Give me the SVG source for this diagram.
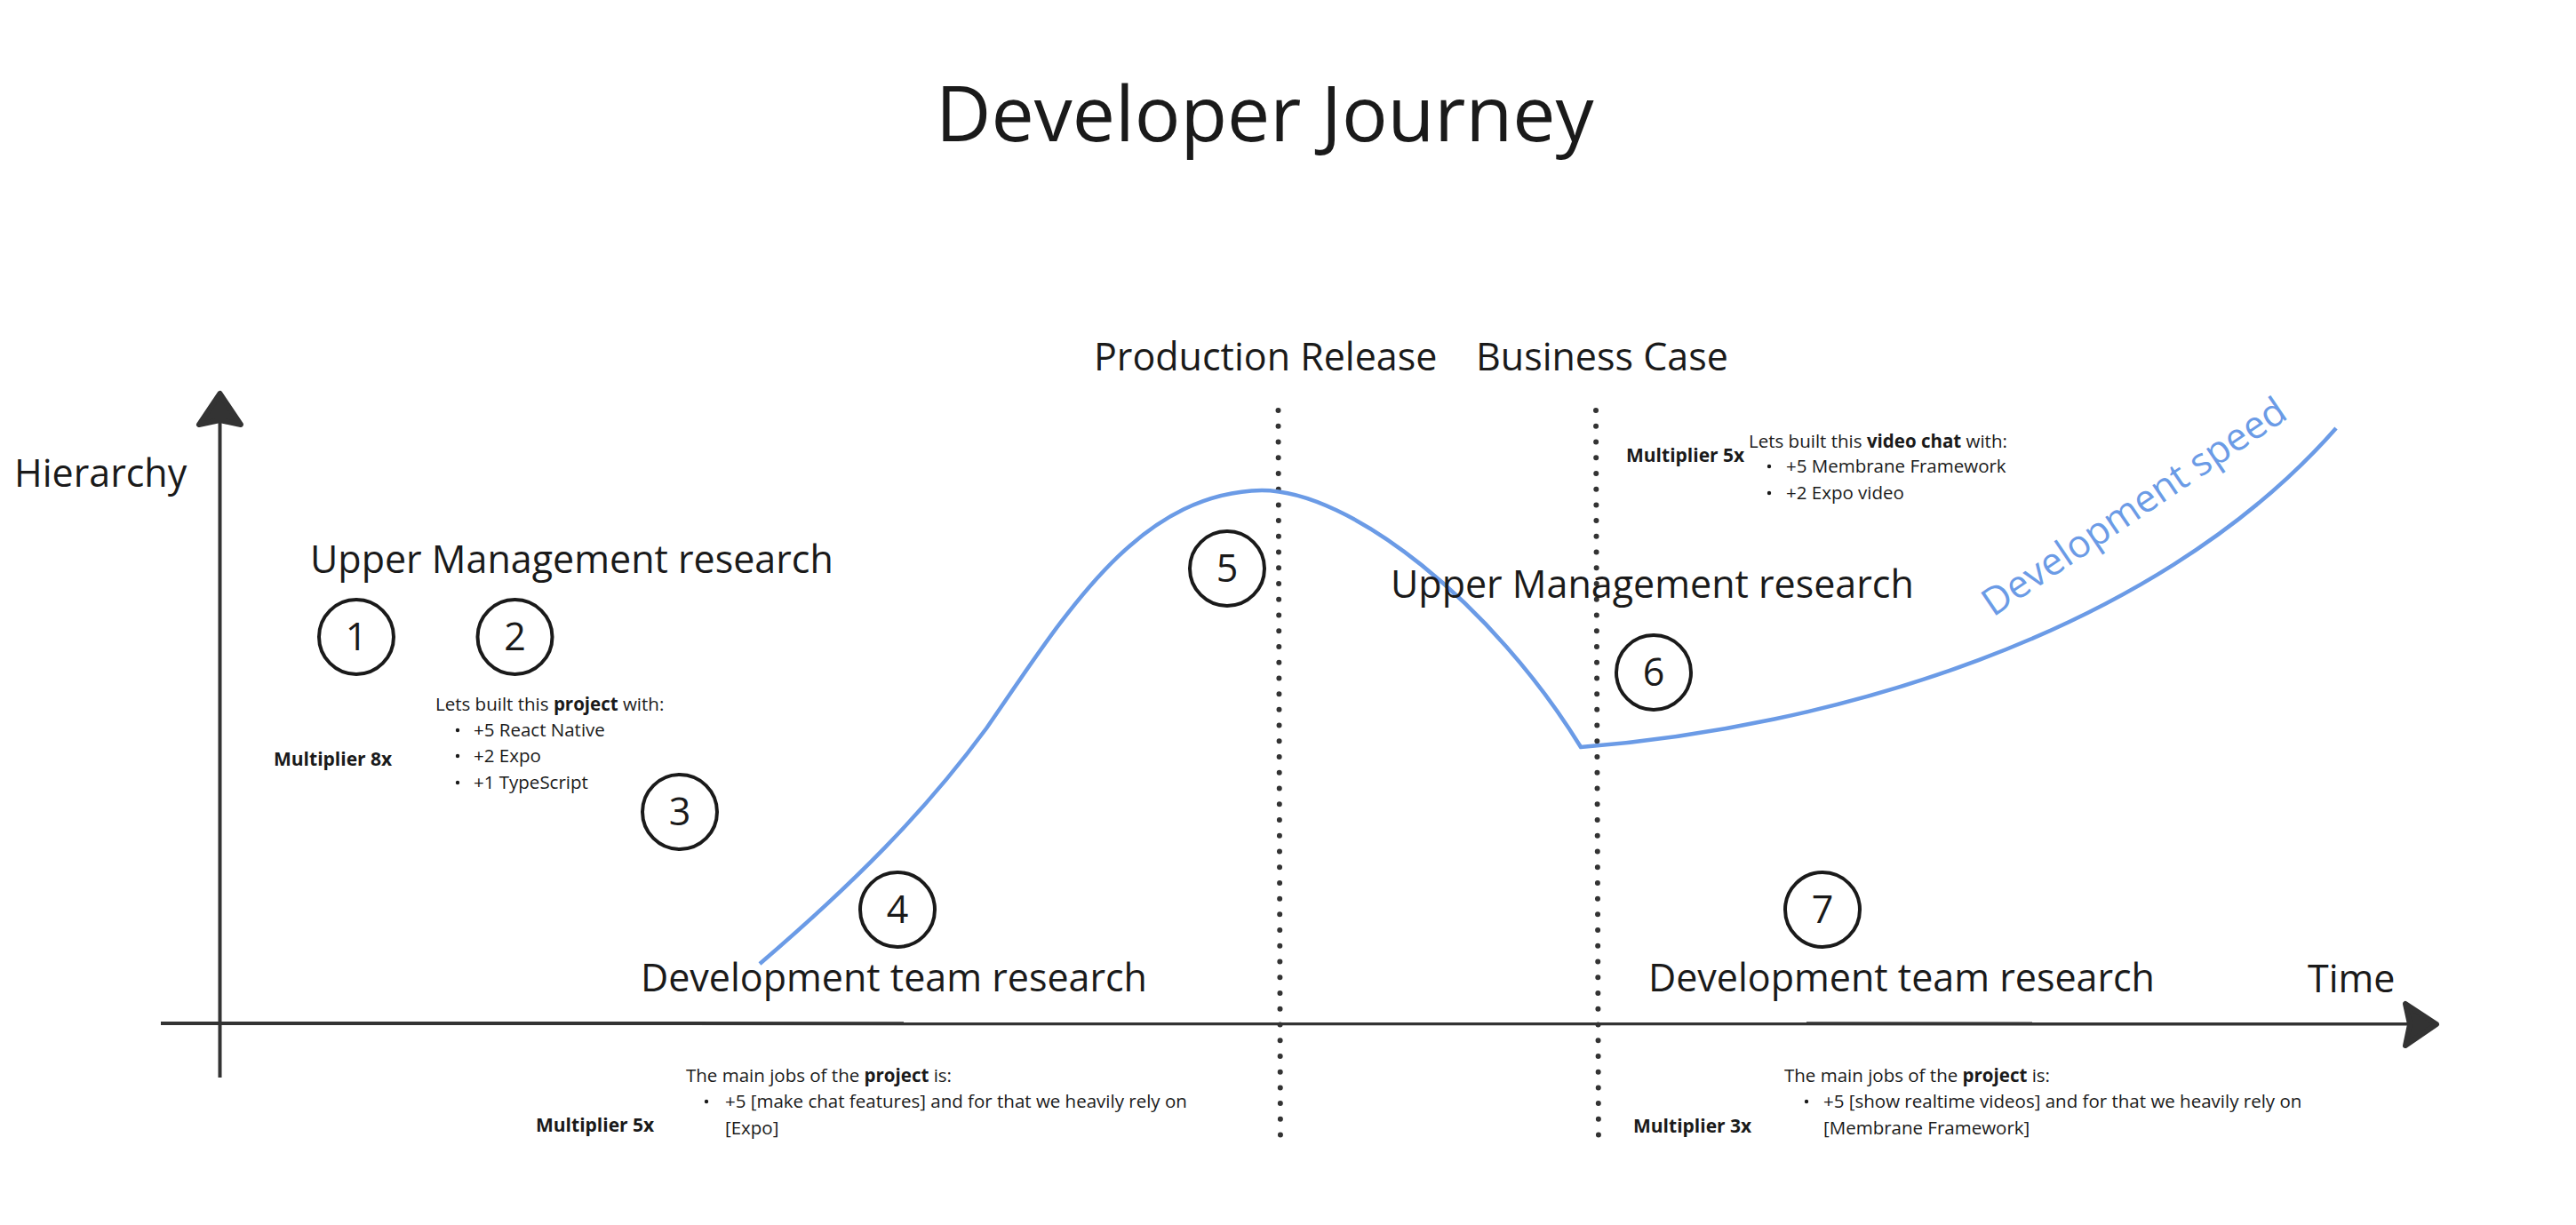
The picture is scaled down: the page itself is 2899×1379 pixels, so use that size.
<svg xmlns="http://www.w3.org/2000/svg" width="2899" height="1379" viewBox="0 0 2899 1379">
<style>
  text { font-family: "Open Sans", "Noto Sans", "Liberation Sans", sans-serif; fill: #1a1a1a; }
  .big { font-size: 43px; }
  .title { font-size: 86px; }
  .small { font-size: 20.5px; }
  .mult { font-size: 21px; font-weight: 700; }
  .b { font-weight: 700; }
  .num { font-size: 43px; text-anchor: middle; }
  .ring { fill: none; stroke: #1a1a1a; stroke-width: 4; }
  .axis { fill: none; stroke: #333333; stroke-width: 4; }
  .head { fill: #333333; stroke: #333333; stroke-width: 6; stroke-linejoin: round; }
  .dots { fill: none; stroke: #333333; stroke-width: 6; stroke-linecap: round; stroke-dasharray: 0 17.73; }
  .curve { fill: none; stroke: #6b9be6; stroke-width: 4.5; stroke-linejoin: miter; }
  .bullet { fill: #1a1a1a; }
</style>
<rect width="2899" height="1379" fill="#ffffff"/>

<g id="connectors">
  <line class="axis" x1="247.5" y1="1213" x2="247.5" y2="472"/>
  <path class="head" d="M247.5,443 L224,478 L247.5,473 L271,478 Z"/>
  <line class="axis" x1="181" y1="1152" x2="2712" y2="1152.5"/>
  <path class="head" d="M2742,1153 L2707,1130 L2712,1153 L2707,1177 Z"/>
  <line class="dots" x1="1438.5" y1="462" x2="1441" y2="1295"/>
  <line class="dots" x1="1796" y1="462" x2="1799" y2="1295"/>
  <path class="curve" d="M855,1085 C960,995 1040,915 1110,820 C1200,690 1280,555 1420,552 C1520,552 1680,680 1779,841 C2050,820 2420,720 2629,482"/>
</g>

<g id="title"><text class="title" x="1053" y="159">Developer Journey</text></g>
<g id="label-hierarchy"><text class="big" x="16" y="548">Hierarchy</text></g>
<g id="label-time"><text class="big" x="2597" y="1117">Time</text></g>
<g id="label-production-release"><text class="big" x="1231" y="417">Production Release</text></g>
<g id="label-business-case"><text class="big" x="1661" y="417">Business Case</text></g>
<g id="label-upper-left"><text class="big" x="349" y="645">Upper Management research</text></g>
<g id="label-upper-right"><text class="big" x="1565" y="673">Upper Management research</text></g>
<g id="label-dev-left"><text class="big" x="721" y="1116">Development team research</text></g>
<g id="label-dev-right"><text class="big" x="1855" y="1116">Development team research</text></g>
<g id="label-dev-speed"><text class="big" transform="translate(2243,695) rotate(-34)" style="fill:#6b9be6">Development speed</text></g>

<g id="step-1"><circle class="ring" cx="401" cy="717" r="42"/><text class="num" x="401" y="732">1</text></g>
<g id="step-2"><circle class="ring" cx="579.5" cy="717" r="42"/><text class="num" x="579.5" y="732">2</text></g>
<g id="step-3"><circle class="ring" cx="765" cy="914" r="42"/><text class="num" x="765" y="929">3</text></g>
<g id="step-4"><circle class="ring" cx="1010" cy="1024" r="42"/><text class="num" x="1010" y="1039">4</text></g>
<g id="step-5"><circle class="ring" cx="1381" cy="640" r="42"/><text class="num" x="1381" y="655">5</text></g>
<g id="step-6"><circle class="ring" cx="1861" cy="757" r="42"/><text class="num" x="1861" y="772">6</text></g>
<g id="step-7"><circle class="ring" cx="2051" cy="1024" r="42"/><text class="num" x="2051" y="1039">7</text></g>

<g id="note-1">
  <text class="mult" x="308" y="862">Multiplier 8x</text>
  <text class="small" x="490" y="800">Lets built this <tspan class="b">project</tspan> with:</text>
  <circle class="bullet" cx="515" cy="822" r="2.2"/>
  <text class="small" x="533" y="829">+5 React Native</text>
  <circle class="bullet" cx="515" cy="851" r="2.2"/>
  <text class="small" x="533" y="858">+2 Expo</text>
  <circle class="bullet" cx="515" cy="881" r="2.2"/>
  <text class="small" x="533" y="888">+1 TypeScript</text>
</g>

<g id="note-2">
  <text class="mult" x="1830" y="520">Multiplier 5x</text>
  <text class="small" x="1968" y="504">Lets built this <tspan class="b">video chat</tspan> with:</text>
  <circle class="bullet" cx="1991" cy="525" r="2.2"/>
  <text class="small" x="2010" y="532">+5 Membrane Framework</text>
  <circle class="bullet" cx="1991" cy="555" r="2.2"/>
  <text class="small" x="2010" y="562">+2 Expo video</text>
</g>

<g id="note-3">
  <text class="mult" x="603" y="1274">Multiplier 5x</text>
  <text class="small" x="772" y="1218">The main jobs of the <tspan class="b">project</tspan> is:</text>
  <circle class="bullet" cx="795" cy="1240" r="2.2"/>
  <text class="small" x="816" y="1247">+5 [make chat features] and for that we heavily rely on</text>
  <text class="small" x="816" y="1277">[Expo]</text>
</g>

<g id="note-4">
  <text class="mult" x="1838" y="1275">Multiplier 3x</text>
  <text class="small" x="2008" y="1218">The main jobs of the <tspan class="b">project</tspan> is:</text>
  <circle class="bullet" cx="2033" cy="1240" r="2.2"/>
  <text class="small" x="2052" y="1247">+5 [show realtime videos] and for that we heavily rely on</text>
  <text class="small" x="2052" y="1277">[Membrane Framework]</text>
</g>
</svg>
